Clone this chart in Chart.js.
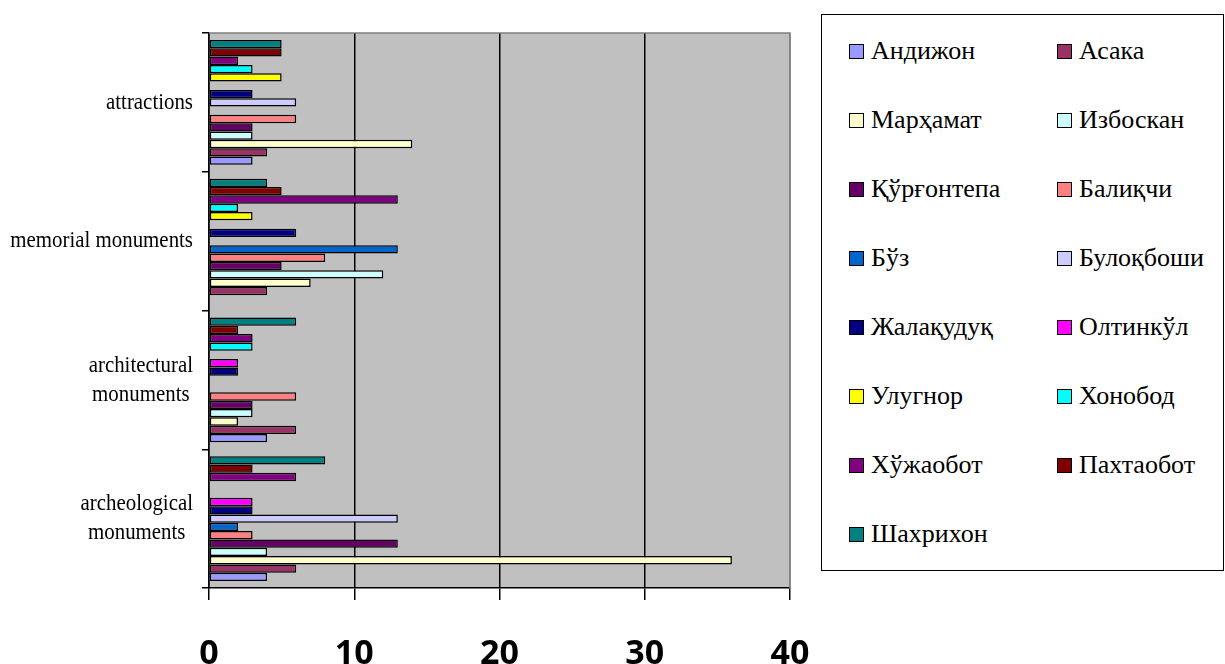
<!DOCTYPE html>
<html>
<head>
<meta charset="utf-8">
<script src="https://cdn.jsdelivr.net/npm/chart.js@4/dist/chart.umd.min.js"></script>
<style>
  html, body { margin: 0; padding: 0; background: #fff; }
  #wrap { position: relative; width: 1225px; height: 664px; overflow: hidden; }
  #chart { position: absolute; left: 0; top: 0; }
  #legend {
    position: absolute; left: 821px; top: 14px; width: 403px; height: 557px;
    box-sizing: border-box; border: 1.5px solid #000; background: #fff;
    font-family: 'Liberation Serif', 'DejaVu Serif', serif; font-size: 26px; color: #000;
  }
  #legend .item { position: absolute; display: flex; align-items: center; height: 30px; white-space: nowrap; }
  #legend .sw { width: 13px; height: 13px; border: 1.5px solid #000; margin-right: 7px; flex: none; }
</style>
</head>
<body>
<div id="wrap">
  <canvas id="chart" width="1225" height="664"></canvas>
  <div id="legend"></div>
</div>
<script>
// Object types, listed from the bottom of the axis upward
const categories = ['archeological monuments', 'architectural monuments', 'memorial monuments', 'attractions'];
const categoryLines = [['archeological', 'monuments'], ['architectural', 'monuments'], ['memorial monuments'], ['attractions']];

// Number of objects per district, in the order of the categories above
const andijon     = [4, 4, 0, 3];
const asaka       = [6, 6, 4, 4];
const markhamat   = [36, 2, 7, 14];
const izboskan    = [4, 3, 12, 3];
const kurgontepa  = [13, 3, 5, 3];
const balikchi    = [3, 6, 8, 6];
const buz         = [2, 0, 13, 0];
const bulokboshi  = [13, 0, 0, 6];
const jalakuduk   = [3, 2, 6, 3];
const oltinkul    = [3, 2, 0, 0];
const ulugnor     = [0, 0, 3, 5];
const khonobod    = [0, 3, 2, 3];
const khujaobod   = [6, 3, 13, 2];
const pakhtaobod  = [3, 2, 5, 5];
const shakhrikhon = [8, 6, 4, 5];

const districtNames = ['Андижон', 'Асака', 'Марҳамат', 'Избоскан', 'Қўрғонтепа', 'Балиқчи', 'Бўз', 'Булоқбоши',
                       'Жалақудуқ', 'Олтинкўл', 'Улугнор', 'Хонобод', 'Хўжаобот', 'Пахтаобот', 'Шахрихон'];
const districtValues = [andijon, asaka, markhamat, izboskan, kurgontepa, balikchi, buz, bulokboshi,
                        jalakuduk, oltinkul, ulugnor, khonobod, khujaobod, pakhtaobod, shakhrikhon];
const districtColors = ['#9999FF', '#993366', '#FFFFCC', '#CCFFFF', '#660066', '#FF8080', '#0066CC', '#CCCCFF',
                        '#000080', '#FF00FF', '#FFFF00', '#00FFFF', '#800080', '#800000', '#008080'];

const xTicks = [0, 10, 20, 30, 40];

// Bars are placed top-down within a group, so feed the districts in reverse
// to keep the first district at the bottom of each group.
const datasets = districtNames.map((name, i) => ({
  label: name,
  data: districtValues[i],
  backgroundColor: districtColors[i],
  borderColor: '#000',
  borderWidth: 1.5,
  borderSkipped: false,
  barPercentage: 1.0,
  categoryPercentage: 0.9
})).reverse();

// Grey plotting area with a darker frame on top and right
const plotBackground = {
  id: 'plotBackground',
  beforeDraw(chart) {
    const { ctx, chartArea: a } = chart;
    ctx.save();
    ctx.fillStyle = '#C0C0C0';
    ctx.fillRect(a.left, a.top, a.right - a.left, a.bottom - a.top);
    ctx.restore();
  },
  afterDraw(chart) {
    const { ctx, chartArea: a } = chart;
    ctx.save();
    ctx.strokeStyle = '#808080';
    ctx.lineWidth = 1.5;
    ctx.beginPath();
    ctx.moveTo(a.left, a.top);
    ctx.lineTo(a.right, a.top);
    ctx.lineTo(a.right, a.bottom);
    ctx.stroke();
    ctx.restore();
  }
};

// Category names: block right-aligned against the axis, lines centred within the block
const categoryLabels = {
  id: 'categoryLabels',
  afterDraw(chart) {
    const { ctx } = chart;
    const y = chart.scales.y;
    const sx = 0.87;
    const rightEdge = 193;
    const lineH = 29;
    ctx.save();
    ctx.font = "24px 'Liberation Serif', 'Times New Roman', serif";
    ctx.fillStyle = '#000';
    ctx.textAlign = 'center';
    ctx.textBaseline = 'middle';
    categoryLines.forEach((lines, i) => {
      const cy = y.getPixelForValue(i);
      const maxW = Math.max(...lines.map(l => ctx.measureText(l).width)) * sx;
      const cx = rightEdge - maxW / 2;
      lines.forEach((line, j) => {
        const ly = cy + (j - (lines.length - 1) / 2) * lineH;
        ctx.save();
        ctx.translate(cx, ly);
        ctx.scale(sx, 1);
        ctx.fillText(line, 0, 0);
        ctx.restore();
      });
    });
    ctx.restore();
  }
};

new Chart(document.getElementById('chart'), {
  type: 'bar',
  data: { labels: categories, datasets },
  options: {
    indexAxis: 'y',
    responsive: false,
    animation: false,
    devicePixelRatio: 1,
    layout: { padding: { left: 0, right: 435, top: 33, bottom: 0 } },
    plugins: { legend: { display: false }, tooltip: { enabled: false } },
    scales: {
      x: {
        type: 'linear',
        min: xTicks[0],
        max: xTicks[xTicks.length - 1],
        afterBuildTicks(scale) { scale.ticks = xTicks.map(v => ({ value: v })); },
        afterFit(scale) { scale.height = 76; },
        ticks: {
          color: '#000',
          padding: 34,
          font: { family: "'Open Sans', 'Liberation Sans', sans-serif", size: 34, weight: 'bold' }
        },
        grid: {
          color: c => (c.tick && c.tick.value === 40 ? '#808080' : '#000'),
          tickColor: '#000',
          lineWidth: 1.5,
          tickLength: 12
        },
        border: { display: true, color: '#000', width: 1.5 }
      },
      y: {
        type: 'category',
        reverse: true,
        offset: true,
        afterFit(scale) { scale.width = 209; },
        ticks: { display: false },
        grid: {
          offset: true,
          drawOnChartArea: false,
          drawTicks: true,
          tickLength: 7,
          color: '#000',
          lineWidth: 1.5
        },
        border: { display: true, color: '#000', width: 1.5 }
      }
    }
  },
  plugins: [plotBackground, categoryLabels]
});

// Legend in two columns, filled row by row
const legend = document.getElementById('legend');
districtNames.forEach((name, i) => {
  const row = Math.floor(i / 2), col = i % 2;
  const item = document.createElement('div');
  item.className = 'item';
  item.style.left = (col === 0 ? 27 : 235) + 'px';
  item.style.top = (36 + row * 69 - 15) + 'px';
  const sw = document.createElement('span');
  sw.className = 'sw';
  sw.style.background = districtColors[i];
  const tx = document.createElement('span');
  tx.textContent = name;
  item.appendChild(sw);
  item.appendChild(tx);
  legend.appendChild(item);
});
</script>
</body>
</html>
